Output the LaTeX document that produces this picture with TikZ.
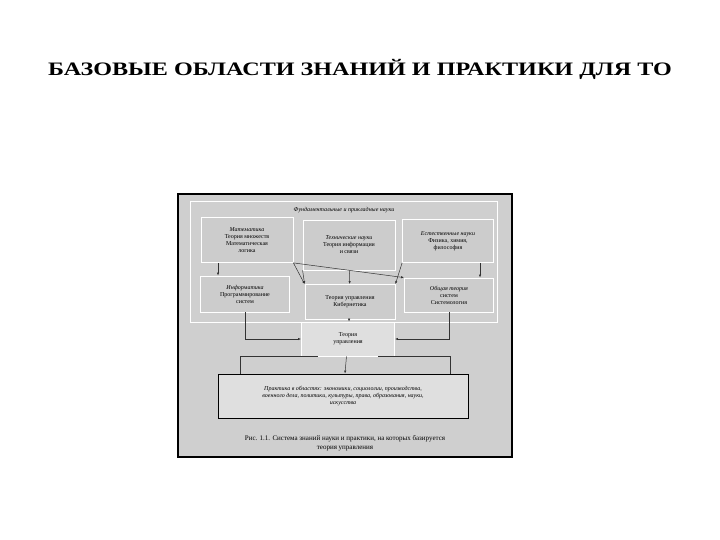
\documentclass[tikz,border=0pt]{standalone}
\usepackage{fontspec}
\setmainfont{Liberation Serif}
\usetikzlibrary{arrows.meta}
\begin{document}
\begin{tikzpicture}[x=1pt,y=-1pt,
 bx/.style={draw=white,line width=0.8pt,fill=gray!40,align=center,font=\fontsize{6}{7}\selectfont,inner sep=1pt},
 ar/.style={-{Latex[length=3pt]},line width=0.5pt,black!80}]
\useasboundingbox (0,0) rectangle (720,540);
\node[font=\bfseries\fontsize{19}{22}\selectfont,xscale=1.27,transform shape] (title) at (360,69) {БАЗОВЫЕ ОБЛАСТИ ЗНАНИЙ И ПРАКТИКИ ДЛЯ ТО};
\draw[line width=2pt,fill=gray!38] (178,194) rectangle (512,457);
\draw[white,line width=0.8pt] (190,201) rectangle (497,322);
\node[font=\itshape\fontsize{6}{7}\selectfont] (fund) at (344,210) {Фундаментальные и прикладные науки};
\node[bx,minimum width=92,minimum height=45] (m) at (247,240) {\textit{Математика}\\Теория множеств\\Математическая\\логика};
\node[bx,minimum width=92,minimum height=50] (t) at (349,245) {\textit{Технические науки}\\Теория информации\\и связи};
\node[bx,minimum width=91,minimum height=43] (e) at (448,241) {\textit{Естественные науки}\\Физика, химия,\\философия};
\node[bx,minimum width=89,minimum height=36] (i) at (245,294) {\textit{Информатика}\\Программирование\\систем};
\node[bx,minimum width=90,minimum height=35] (k) at (350,302) {Теория управления\\Кибернетика};
\node[bx,minimum width=89,minimum height=34] (s) at (449,295) {\textit{Общая теория}\\систем\\Системология};
\node[bx,fill=gray!25,minimum width=93,minimum height=34] (c) at (348,339) {Теория\\управления};
\node[bx,draw=black,fill=gray!25,minimum width=250,minimum height=44,font=\itshape\fontsize{6}{7}\selectfont] (p) at (343,396) {Практика в областях: экономики, социологии, производства,\\военного дела, политики, культуры, права, образования, науки,\\искусства};
\node[font=\fontsize{7}{8.5}\selectfont,align=center] (cap) at (345,443) {Рис. 1.1. Система знаний науки и практики, на которых базируется\\теория управления};
\draw[ar] (m.south-|218,0) -- (i.north-|218,0);
\draw[ar] (e.south-|480,0) -- (s.north-|480,0);
\draw[ar] (t) -- (k);
\draw[ar] (m.south east) -- (k.north west);
\draw[ar] (e.south west) -- (k.north east);
\draw[ar] (m.south east) -- (s.north west);
\draw[ar] (t.south west) -- (k.north west);
\draw[ar] (k) -- (c);
\draw[ar] (i.south) |- (c.west);
\draw[ar] (s.south) |- (c.east);
\draw[line width=0.5pt,black!80] (c.210) -| (240,374);
\draw[line width=0.5pt,black!80] (c.330) -| (450,374);
\draw[ar] (c) -- (p);
\end{tikzpicture}
\end{document}
